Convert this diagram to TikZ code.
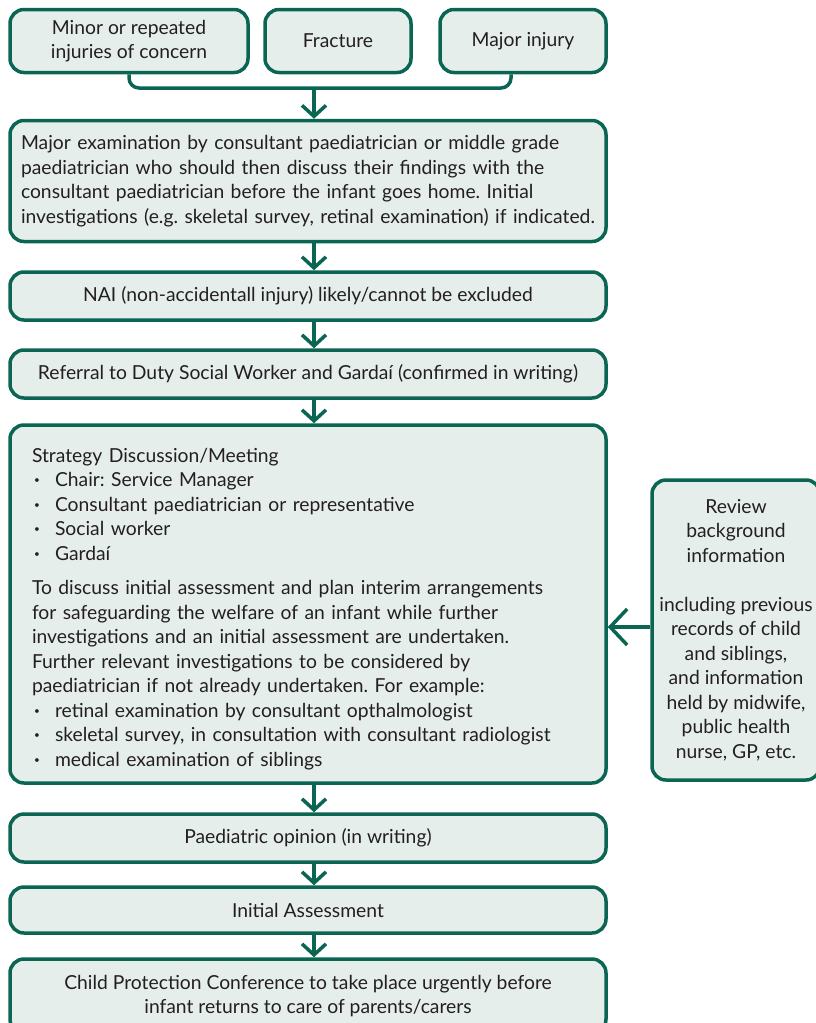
\documentclass[tikz,border=0pt]{standalone}
\usepackage{fontspec}
\setmainfont{Lato}
\usetikzlibrary{arrows.meta}
\usetikzlibrary{positioning}

\definecolor{boxline}{RGB}{10,102,82}
\definecolor{boxfill}{RGB}{230,238,235}
\definecolor{boxtext}{RGB}{35,31,32}

\newcommand{\listdot}{\makebox[23pt][l]{\hspace{2pt}\raisebox{0.3ex}{\fontsize{10}{10}\selectfont\textbullet}}}
\frenchspacing

\tikzset{
	flowbox/.style={draw=boxline,fill=boxfill,line width=3.5pt,rounded corners=14pt,
		inner sep=0pt,text=boxtext,align=center,font=\fontsize{19.3}{24.5}\selectfont},
	wide/.style={minimum width=596pt},
	flowarrow/.style={draw=boxline,line width=3.5pt,-{Straight Barb[length=11pt,width=24pt]}},
}

\begin{document}
\begin{tikzpicture}[x=1pt,y=-1pt]
		\useasboundingbox (0,0) rectangle (816,1023);
		% first row
		\node[flowbox,minimum width=238pt,minimum height=63pt] (minor) at (129,41) {Minor or repeated\\injuries of concern};
		\node[flowbox,minimum width=146pt,minimum height=63pt] (fracture) at (338,41) {Fracture};
		\node[flowbox,minimum width=166pt,minimum height=63pt] (major) at (523,41) {Major injury};
		% main column
		\node[flowbox,wide,minimum height=121pt,align=left,text width=574pt] (exam) at (308,181)
			{Major examination by consultant paediatrician or middle grade\\
			paediatrician who should then discuss their findings with the\\
			consultant paediatrician before the infant goes home. Initial\\
			investigations (e.g. skeletal survey, retinal examination) if indicated.};
		\node[flowbox,wide,minimum height=48pt] (nai) at (308,296) {NAI (non-accidentall injury) likely/cannot be excluded};
		\node[flowbox,wide,minimum height=48pt] (referral) at (308,374) {Referral to Duty Social Worker and Garda\'i (confirmed in writing)};
		\node[flowbox,wide,minimum height=358pt,align=left,text width=552pt] (strategy) at (308,604)
			{\rule{0pt}{24pt}Strategy Discussion/Meeting\\
			\listdot Chair: Service Manager\\
			\listdot Consultant paediatrician or representative\\
			\listdot Social worker\\
			\listdot Garda\'i\\[10pt]
			To discuss initial assessment and plan interim arrangements\\
			for safeguarding the welfare of an infant while further\\
			investigations and an initial assessment are undertaken.\\
			Further relevant investigations to be considered by\\
			paediatrician if not already undertaken. For example:\\
			\listdot retinal examination by consultant opthalmologist\\
			\listdot skeletal survey, in consultation with consultant radiologist\\
			\listdot medical examination of siblings};
		\node[flowbox,wide,minimum height=48pt] (opinion) at (308,838) {Paediatric opinion (in writing)};
		\node[flowbox,wide,minimum height=46pt] (initial) at (308,910) {Initial Assessment};
		\node[flowbox,wide,minimum height=74pt] (conference) at (308,996) {Child Protection Conference to take place urgently before\\infant returns to care of parents/carers};
		% side box
		\node[flowbox,minimum width=168pt,minimum height=300pt] (review) at (736,630)
			{Review\\background\\information\\[24.5pt]
			including previous\\records of child\\and siblings,\\and information\\held by midwife,\\public health\\nurse, GP, etc.};
		% connectors
		\coordinate (fork) at (314,88);
		\draw[boxline,line width=3.5pt,rounded corners=10pt] (minor.south) |- (fork) -| ([xshift=-12pt]major.south);
		\draw[flowarrow] (fork) -- (fork |- exam.north);
		\draw[flowarrow] (exam.south -| fork) -- (nai.north -| fork);
		\draw[flowarrow] (nai.south -| fork) -- (referral.north -| fork);
		\draw[flowarrow] (referral.south -| fork) -- (strategy.north -| fork);
		\draw[flowarrow] (strategy.south -| fork) -- (opinion.north -| fork);
		\draw[flowarrow] (opinion.south -| fork) -- (initial.north -| fork);
		\draw[flowarrow] (initial.south -| fork) -- (conference.north -| fork);
		\draw[flowarrow,-{Straight Barb[length=17pt,width=36pt]}] ([yshift=3pt]review.west) -- ([yshift=3pt]review.west -| strategy.east);
	\end{tikzpicture}
\end{document}
